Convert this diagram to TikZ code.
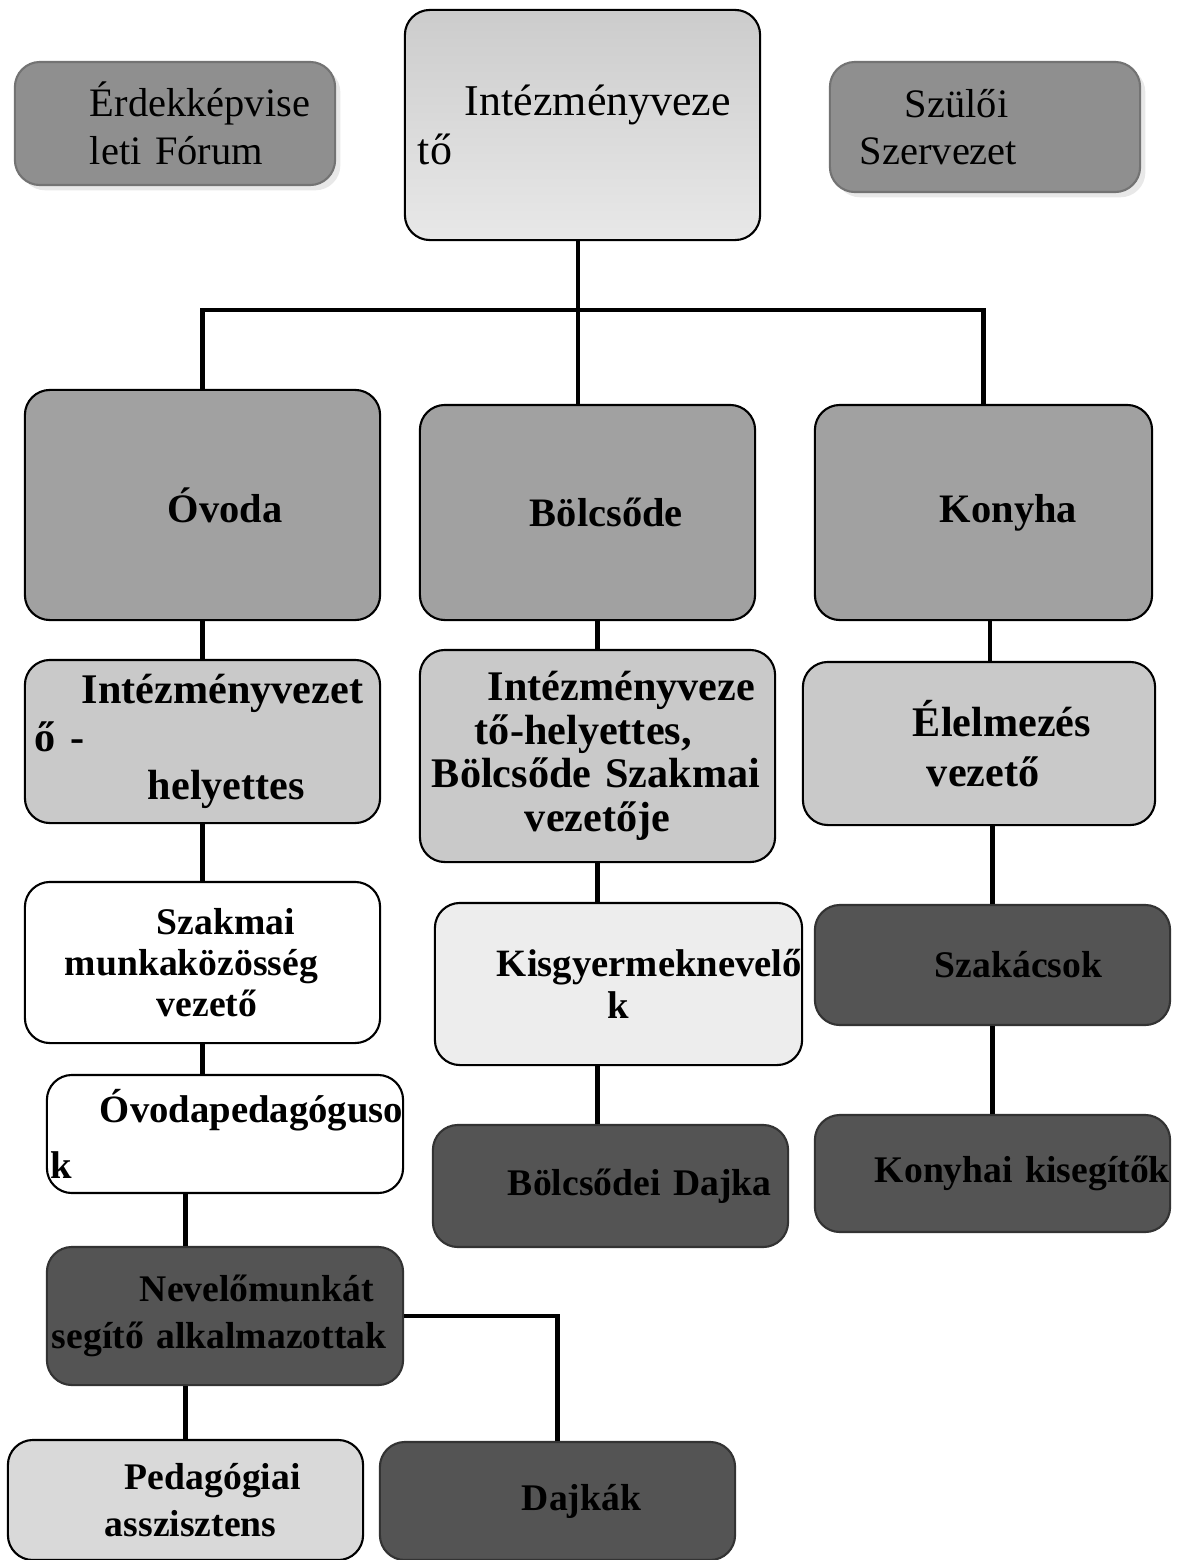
\documentclass[tikz,border=0pt]{standalone}
\usepackage{fontspec}
\setmainfont{Liberation Serif}
\usetikzlibrary{shadows}
\hyphenpenalty=10000
\exhyphenpenalty=10000
\definecolor{sidegray}{gray}{0.56}
\definecolor{unitgray}{gray}{0.63}
\definecolor{deputygray}{gray}{0.79}
\definecolor{palegray}{gray}{0.93}
\definecolor{staffgray}{gray}{0.33}
\definecolor{assistgray}{gray}{0.85}
\tikzset{
  box/.style={
    draw=black,
    line width=0.6pt,
    rounded corners=0.25cm,
    inner xsep=0pt,
    align=left,
    font=\bfseries\fontsize{10.7}{13.5}\selectfont
  },
  side/.style={
    box,
    draw=black!55,
    fill=sidegray,
    font=\fontsize{11.5}{13.5}\selectfont,
    drop shadow={shadow xshift=1.5pt, shadow yshift=-1.5pt, fill=black!18}
  },
  unit/.style={box, fill=unitgray, font=\bfseries\fontsize{11.5}{14}\selectfont},
  deputy/.style={box, fill=deputygray},
  staff/.style={box, fill=staffgray, draw=black!80},
  conn/.style={line width=1.3pt}
}
\begin{document}
\begin{tikzpicture}[x=0.01cm, y=-0.01cm]
\useasboundingbox (0,0) rectangle (1177,1560);

% vezetés
\node[side, text width=3.2cm, minimum height=1.23cm] (forum) at (175,123.5)
  {\hspace*{0.75cm}Érdekképvise\\\hspace*{0.75cm}leti~Fórum};
\node[box, font=\fontsize{12.5}{13.8}\selectfont, top color=black!20, bottom color=black!9,
  text width=3.55cm, minimum height=2.3cm] (vezeto) at (582.5,125)
  {\hspace*{0.6cm}Intézményveze\\\hspace*{0.13cm}tő};
\node[side, text width=3.1cm, minimum height=1.3cm] (szulo) at (985,127)
  {\hspace*{0.75cm}Szülői\\\hspace*{0.3cm}Szervezet};

% egységek
\node[unit, text width=3.55cm, minimum height=2.3cm] (ovoda) at (202.5,505)
  {\hspace*{1.43cm}Óvoda};
\node[unit, text width=3.35cm, minimum height=2.15cm] (bolcsode) at (587.5,512.5)
  {\hspace*{1.1cm}Bölcsőde};
\node[unit, text width=3.37cm, minimum height=2.15cm] (konyha) at (983.5,512.5)
  {\hspace*{1.25cm}Konyha};

% helyettesek
\node[deputy, font=\bfseries\fontsize{12}{13.7}\selectfont, text width=3.55cm,
  minimum height=1.63cm] (helyettesL) at (202.5,741.5)
  {\hspace*{0.57cm}Intézményvezet\\\hspace*{0.1cm}ő~-\\\hspace*{1.23cm}helyettes};
\node[deputy, font=\bfseries\fontsize{12}{12.4}\selectfont, text width=3.55cm,
  minimum height=2.12cm] (helyettesM) at (597.5,756)
  {\hspace*{0.68cm}Intézményveze\\\hspace*{0.55cm}tő-helyettes,\\
   \hspace*{0.12cm}Bölcsőde~Szakmai\\\hspace*{1.05cm}vezetője};
\node[deputy, font=\bfseries\fontsize{12}{14.2}\selectfont, text width=3.52cm,
  minimum height=1.63cm] (elelmezes) at (979,743.5)
  {\hspace*{1.1cm}Élelmezés\\\hspace*{1.24cm}vezető};

% óvoda ág
\node[box, fill=white, font=\bfseries\fontsize{10.7}{11.7}\selectfont, text width=3.55cm,
  minimum height=1.61cm] (szakmai) at (202.5,962.5)
  {\hspace*{1.32cm}Szakmai\\\hspace*{0.4cm}munkaközösség\\\hspace*{1.32cm}vezető};
\node[box, fill=white, font=\bfseries\fontsize{11}{16}\selectfont, text width=3.56cm,
  minimum height=1.18cm] (ovodaped) at (225,1134)
  {\hspace*{0.53cm}Óvodapedagóguso\\\hspace*{0.04cm}k};
\node[staff, text width=3.56cm, minimum height=1.38cm] (nevelo) at (225,1316)
  {\hspace*{0.93cm}Nevelőmunkát\\\hspace*{0.05cm}segítő~alkalmazottak};
\node[box, fill=assistgray, text width=3.55cm, minimum height=1.2cm] (pedassz) at (185.5,1500)
  {\hspace*{1.17cm}Pedagógiai\\\hspace*{0.97cm}asszisztens};
\node[staff, text width=3.55cm, minimum height=1.18cm] (dajkak) at (557.5,1501)
  {\hspace*{1.42cm}Dajkák};

% bölcsőde ág
\node[box, fill=palegray, font=\bfseries\fontsize{11}{12}\selectfont, text width=3.67cm,
  minimum height=1.62cm] (kisgyermek) at (618.5,984)
  {\hspace*{0.62cm}Kisgyermeknevelő\\\hspace*{1.73cm}k};
\node[staff, text width=3.55cm, minimum height=1.22cm] (bdajka) at (610.5,1186)
  {\hspace*{0.75cm}Bölcsődei~Dajka};

% konyha ág
\node[staff, text width=3.55cm, minimum height=1.2cm] (szakacs) at (992.5,965)
  {\hspace*{1.2cm}Szakácsok};
\node[staff, text width=3.55cm, minimum height=1.17cm] (kkisegito) at (992.5,1173.5)
  {\hspace*{0.6cm}Konyhai~kisegítők};

\coordinate (hub) at (578,310);

\draw[conn] (vezeto.south -| hub) -- (hub);
\draw[conn] (hub) -| (ovoda.north);
\draw[conn] (hub) -- (hub |- bolcsode.north);
\draw[conn] (hub) -| (konyha.north);

\path[conn] (ovoda)      edge (helyettesL)
            (helyettesL) edge (szakmai)
            (szakacs)    edge (kkisegito);
\draw[conn] (szakmai.south) -- (szakmai.south |- ovodaped.north);
\draw[conn] (pedassz.north |- ovodaped.south) -- (pedassz.north |- nevelo.north);
\draw[conn] (nevelo.south -| pedassz.north) -- (pedassz.north);
\draw[conn] (nevelo.east) -| (dajkak.north);

\draw[conn] (helyettesM.north |- bolcsode.south) -- (helyettesM.north);
\draw[conn] (helyettesM.south) -- (helyettesM.south |- kisgyermek.north);
\draw[conn] (helyettesM.south |- kisgyermek.south) -- (helyettesM.south |- bdajka.north);

\draw[conn] (konyha.south -| 990,0) -- (elelmezes.north -| 990,0);
\draw[conn] (szakacs.north |- elelmezes.south) -- (szakacs.north);
\end{tikzpicture}
\end{document}
